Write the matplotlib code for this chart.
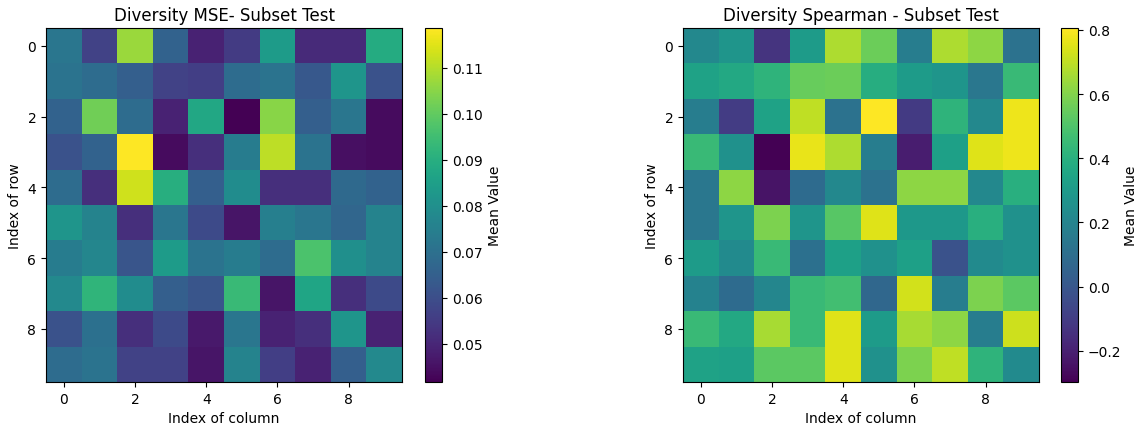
import numpy as np
import matplotlib
matplotlib.use("Agg")
import matplotlib.pyplot as plt

mse_values = [
    [0.072, 0.057, 0.107, 0.066, 0.049, 0.055, 0.084, 0.051, 0.051, 0.089],
    [0.071, 0.069, 0.065, 0.057, 0.056, 0.069, 0.071, 0.063, 0.082, 0.061],
    [0.066, 0.102, 0.069, 0.049, 0.088, 0.0417, 0.105, 0.065, 0.072, 0.044],
    [0.061, 0.066, 0.1187, 0.044, 0.052, 0.074, 0.111, 0.071, 0.045, 0.044],
    [0.069, 0.052, 0.113, 0.090, 0.065, 0.079, 0.052, 0.052, 0.068, 0.066],
    [0.082, 0.076, 0.052, 0.072, 0.059, 0.046, 0.075, 0.072, 0.067, 0.076],
    [0.074, 0.077, 0.062, 0.084, 0.071, 0.074, 0.069, 0.097, 0.080, 0.076],
    [0.078, 0.092, 0.079, 0.065, 0.062, 0.094, 0.046, 0.087, 0.052, 0.059],
    [0.061, 0.070, 0.052, 0.059, 0.047, 0.072, 0.049, 0.052, 0.082, 0.049],
    [0.069, 0.071, 0.057, 0.057, 0.046, 0.076, 0.056, 0.049, 0.065, 0.078],
]

spearman_values = [
    [0.22, 0.28, -0.13, 0.31, 0.67, 0.56, 0.17, 0.67, 0.62, 0.12],
    [0.34, 0.37, 0.42, 0.55, 0.56, 0.39, 0.31, 0.28, 0.14, 0.45],
    [0.17, -0.10, 0.34, 0.70, 0.12, 0.806, -0.11, 0.42, 0.22, 0.78],
    [0.45, 0.26, -0.297, 0.77, 0.67, 0.17, -0.21, 0.33, 0.75, 0.78],
    [0.14, 0.62, -0.24, 0.09, 0.22, 0.12, 0.62, 0.62, 0.22, 0.40],
    [0.14, 0.28, 0.59, 0.28, 0.52, 0.75, 0.29, 0.29, 0.40, 0.26],
    [0.31, 0.23, 0.45, 0.11, 0.33, 0.26, 0.33, -0.02, 0.23, 0.26],
    [0.19, 0.09, 0.21, 0.45, 0.47, 0.07, 0.73, 0.17, 0.59, 0.53],
    [0.45, 0.37, 0.66, 0.45, 0.75, 0.31, 0.66, 0.62, 0.17, 0.72],
    [0.34, 0.33, 0.53, 0.53, 0.75, 0.26, 0.59, 0.70, 0.42, 0.23],
]

titles = ["Diversity MSE- Subset Test", "Diversity Spearman - Subset Test"]
xlabel = "Index of column"
ylabel = "Index of row"
cbar_label = "Mean Value"

W, H = 1137, 427
fig = plt.figure(figsize=(W / 100, H / 100), dpi=100)

def px_rect(x0, x1, y0, y1):
    return [x0 / W, (H - y1) / H, (x1 - x0) / W, (y1 - y0) / H]

ax1 = fig.add_axes(px_rect(46, 402, 29, 383))
cax1 = fig.add_axes(px_rect(425, 442, 29, 383))
ax2 = fig.add_axes(px_rect(683, 1039, 29, 383))
cax2 = fig.add_axes(px_rect(1061, 1078, 29, 383))

for ax, cax, data, title, pad in [(ax1, cax1, mse_values, titles[0], 4),
                                  (ax2, cax2, spearman_values, titles[1], 2)]:
    im = ax.imshow(np.array(data), cmap="viridis", aspect="auto")
    ax.set_title(title, fontsize=12)
    ax.set_xlabel(xlabel, fontsize=10)
    ax.set_ylabel(ylabel, fontsize=10)
    ax.set_xticks([0, 2, 4, 6, 8])
    ax.set_yticks([0, 2, 4, 6, 8])
    cb = fig.colorbar(im, cax=cax)
    cb.set_label(cbar_label, fontsize=10, labelpad=pad)

fig.savefig("out.png", dpi=100)
